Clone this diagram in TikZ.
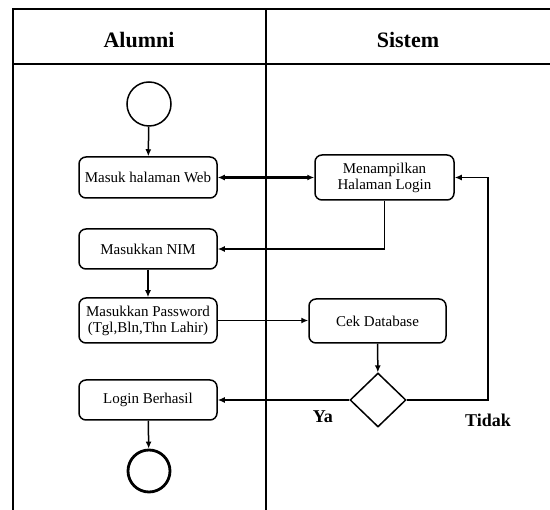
\documentclass[tikz,border=0pt]{standalone}
\usepackage{fontspec}
\setmainfont{Liberation Serif}
\usetikzlibrary{shapes.geometric,arrows.meta}
\begin{document}
\begin{tikzpicture}[x=1pt,y=-1pt,>={Latex[length=7pt,width=6pt]},line width=1.5pt]
		\tikzstyle{act} = [draw, rounded corners=7pt, fill=white, minimum width=138pt, inner sep=1pt, align=center, font=\fontsize{15}{16}\selectfont]
		\tikzstyle{lane} = [font=\fontsize{22}{24}\selectfont\bfseries]
		\tikzstyle{guard} = [font=\fontsize{18}{20}\selectfont\bfseries]
		\useasboundingbox (0,0) rectangle (550,510);

		% Swimlanes
		\draw[line width=2pt] (550,9) -- (13,9) -- (13,510);
		\draw[line width=2pt] (13,64) -- (550,64);
		\draw[line width=2pt] (266,9) -- (266,510);
		\node[lane] (Alumni) at (139,40) {Alumni};
		\node[lane] (Sistem) at (408,40) {Sistem};

		% Define nodes
		\node[circle, draw, minimum size=44pt] (Start) at (149,104) {};
		\node[act, minimum height=41pt] (Web) at (148,177.5) {Masuk halaman Web};
		\node[act, minimum height=40pt] (NIM) at (148,249) {Masukkan NIM};
		\node[act, minimum height=45pt] (Pass) at (148,320.5) {Masukkan Password\\(Tgl,Bln,Thn Lahir)};
		\node[act, minimum height=40pt] (Berhasil) at (148,400) {Login Berhasil};
		\node[circle, draw, line width=2.8pt, minimum size=42pt] (End) at (149,471) {};
		\node[act, minimum width=139pt, minimum height=45pt] (Login) at (384.5,177.5) {Menampilkan\\Halaman Login};
		\node[act, minimum width=137pt, minimum height=44pt] (Cek) at (377.5,321) {Cek Database};
		\node[diamond, draw, fill=white, minimum width=56pt, minimum height=54pt, inner sep=0pt] (Cek?) at (378,400) {};
		\coordinate (Balik) at (488,400);

		% Draw edges with labels
		\draw[->] (Start) -- (Web);
		\draw[<->, line width=2.6pt] (Web) -- (Login);
		\draw[->] (Login.south) |- (NIM.east);
		\draw[->] (NIM) -- (Pass);
		\draw[->] (Pass.east) -- (Cek.west |- Pass.east);
		\draw[->] (Cek) -- (Cek?);
		\draw[->, line width=2.6pt] (Cek?.west) -- (Berhasil.east) node[guard, pos=0.2, below=6pt] {Ya};
		\draw[->] (Cek?.east) -- (Balik) |- (Login.east) node[guard, pos=0, below=10pt] {Tidak};
		\draw[->] (Berhasil) -- (End);

		\end{tikzpicture}
\end{document}
